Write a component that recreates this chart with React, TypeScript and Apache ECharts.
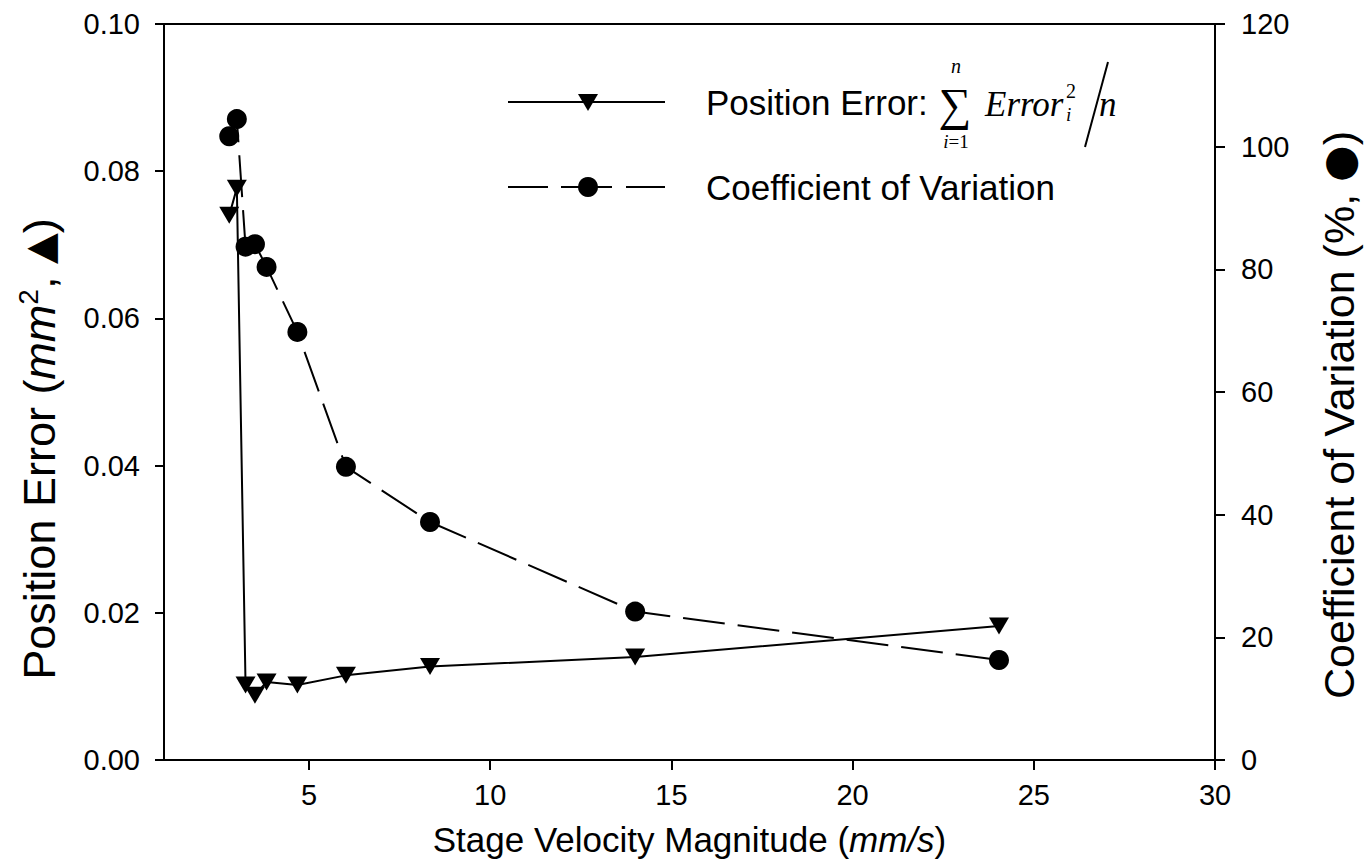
import React, { useEffect, useRef } from "react";
import * as echarts from "echarts";

// Stage velocity magnitude (mm/s)
const velocity = [2.8, 3.01, 3.25, 3.51, 3.83, 4.68, 6.02, 8.34, 14.0, 24.04];
// Position error (mm^2), triangles, left axis
const positionError = [0.074, 0.0777, 0.0102, 0.0088, 0.0106, 0.0102, 0.0115, 0.0127, 0.014, 0.0182];
// Coefficient of variation (%), circles, right axis
const coefVariation = [101.7, 104.5, 83.7, 84.1, 80.4, 69.8, 47.8, 38.8, 24.2, 16.3];
// Tick values
const xTicks = [5, 10, 15, 20, 25, 30];

const SANS = "'Liberation Sans', Arial, sans-serif";
const SERIF = "'Liberation Serif', 'Times New Roman', serif";
const SYM = "'DejaVu Sans', sans-serif";

export default function App() {
  const ref = useRef<HTMLDivElement>(null);
  useEffect(() => {
    if (!ref.current) return;
    const chart = echarts.init(ref.current, undefined, { renderer: "svg" });
    const black = "#000";
    const tickFont = 29;
    const titleFont = 35;
    const option: any = {
      animation: false,
      backgroundColor: "#fff",
      grid: {
        left: 164,
        right: 153,
        top: 24,
        bottom: 105,
        show: true,
        borderColor: black,
        borderWidth: 2,
        backgroundColor: "transparent",
      },
      xAxis: {
        type: "value",
        min: 1,
        max: 30,
        splitLine: { show: false },
        axisLine: { lineStyle: { color: black, width: 2 } },
        axisTick: { customValues: xTicks, length: 10, lineStyle: { color: black, width: 2 } },
        axisLabel: {
          customValues: xTicks,
          fontSize: tickFont,
          fontFamily: SANS,
          color: black,
          margin: 20,
        },
        name: "Stage Velocity Magnitude ({it|mm/s})",
        nameLocation: "middle",
        nameGap: 62,
        nameTextStyle: {
          fontSize: titleFont,
          fontFamily: SANS,
          color: black,
          rich: { it: { fontSize: titleFont, fontFamily: SANS, fontStyle: "italic", color: black } },
        },
      },
      yAxis: [
        {
          type: "value",
          min: 0,
          max: 0.1,
          interval: 0.02,
          position: "left",
          splitLine: { show: false },
          axisLine: { show: true, lineStyle: { color: black, width: 2 } },
          axisTick: { length: 9, lineStyle: { color: black, width: 2 } },
          axisLabel: {
            fontSize: tickFont,
            fontFamily: SANS,
            color: black,
            margin: 24,
            formatter: (v: number) => v.toFixed(2),
          },
          name: "Position Error ({it|mm}{sup|2}, {sym|▲})",
          nameLocation: "middle",
          nameRotate: 90,
          nameGap: 100,
          nameTextStyle: {
            fontSize: 45,
            fontFamily: SANS,
            color: black,
            padding: [0, 114, 0, 0],
            rich: {
              it: { fontSize: 45, fontFamily: SANS, fontStyle: "italic", color: black },
              sup: { fontSize: 28, fontFamily: SANS, color: black, verticalAlign: "top", padding: [0, 0, 22, 0] },
              sym: { fontSize: 40, fontFamily: SYM, color: black },
            },
          },
        },
        {
          type: "value",
          min: 0,
          max: 120,
          interval: 20,
          position: "right",
          splitLine: { show: false },
          axisLine: { show: true, lineStyle: { color: black, width: 2 } },
          axisTick: { length: 10, lineStyle: { color: black, width: 2 } },
          axisLabel: { fontSize: tickFont, fontFamily: SANS, color: black, margin: 26 },
          name: "Coefficient of Variation (%, {sym|●})",
          nameLocation: "middle",
          nameRotate: 90,
          nameGap: 102,
          nameTextStyle: {
            fontSize: 43,
            fontFamily: SANS,
            color: black,
            padding: [0, 46, 0, 0],
            rich: {
              sym: { fontSize: 42, fontFamily: SYM, color: black },
            },
          },
        },
      ],
      series: [
        {
          type: "line",
          name: "Position Error",
          xAxisIndex: 0,
          yAxisIndex: 0,
          data: velocity.map((v, i) => [v, positionError[i]]),
          symbol: "triangle",
          symbolRotate: 180,
          symbolSize: [20, 17],
          itemStyle: { color: black },
          lineStyle: { color: black, width: 2 },
          z: 4,
        },
        {
          type: "line",
          name: "Coefficient of Variation",
          xAxisIndex: 0,
          yAxisIndex: 1,
          data: velocity.map((v, i) => [v, coefVariation[i]]),
          symbol: "circle",
          symbolSize: 20,
          itemStyle: { color: black },
          lineStyle: { color: black, width: 2, type: [42, 13] },
          z: 3,
        },
      ],
      graphic: [
        // Row 1: solid line with down triangle
        { type: "line", shape: { x1: 508, y1: 102, x2: 665, y2: 102 }, style: { stroke: black, lineWidth: 2 } },
        { type: "polygon", shape: { points: [[578, 94], [598, 94], [588, 111]] }, style: { fill: black } },
        {
          type: "text",
          x: 706,
          y: 102,
          style: { text: "Position Error:", font: `${titleFont}px ${SANS}`, fill: black, verticalAlign: "middle" },
        },
        {
          type: "text",
          x: 955,
          y: 104,
          style: { text: "∑", font: `46px ${SERIF}`, fill: black, align: "center", verticalAlign: "middle" },
        },
        {
          type: "text",
          x: 956,
          y: 66,
          style: { text: "n", font: `italic 20px ${SERIF}`, fill: black, align: "center", verticalAlign: "middle" },
        },
        {
          type: "text",
          x: 956,
          y: 141,
          style: {
            text: "{it|i}=1",
            font: `19px ${SERIF}`,
            fill: black,
            align: "center",
            verticalAlign: "middle",
            rich: { it: { fontStyle: "italic", fontSize: 19, fontFamily: SERIF, fill: black } },
          },
        },
        {
          type: "text",
          x: 985,
          y: 104,
          style: { text: "Error", font: `italic ${titleFont}px ${SERIF}`, fill: black, verticalAlign: "middle" },
        },
        {
          type: "text",
          x: 1066,
          y: 91,
          style: { text: "2", font: `20px ${SERIF}`, fill: black, verticalAlign: "middle" },
        },
        {
          type: "text",
          x: 1066,
          y: 114,
          style: { text: "i", font: `italic 19px ${SERIF}`, fill: black, verticalAlign: "middle" },
        },
        { type: "line", shape: { x1: 1108, y1: 62, x2: 1085, y2: 147 }, style: { stroke: black, lineWidth: 2 } },
        {
          type: "text",
          x: 1099,
          y: 104,
          style: { text: "n", font: `italic ${titleFont}px ${SERIF}`, fill: black, verticalAlign: "middle" },
        },
        // Row 2: dashed line with circle
        { type: "line", shape: { x1: 508, y1: 187, x2: 548, y2: 187 }, style: { stroke: black, lineWidth: 2 } },
        { type: "line", shape: { x1: 561, y1: 187, x2: 612, y2: 187 }, style: { stroke: black, lineWidth: 2 } },
        { type: "line", shape: { x1: 626, y1: 187, x2: 665, y2: 187 }, style: { stroke: black, lineWidth: 2 } },
        { type: "circle", shape: { cx: 588, cy: 187, r: 10 }, style: { fill: black } },
        {
          type: "text",
          x: 706,
          y: 187,
          style: { text: "Coefficient of Variation", font: `${titleFont}px ${SANS}`, fill: black, verticalAlign: "middle" },
        },
      ],
    };
    chart.setOption(option);
    return () => chart.dispose();
  }, []);
  return (
    <div
      ref={ref}
      style={{ position: "fixed", left: 0, top: 0, width: 1368, height: 865, background: "#fff" }}
    />
  );
}
